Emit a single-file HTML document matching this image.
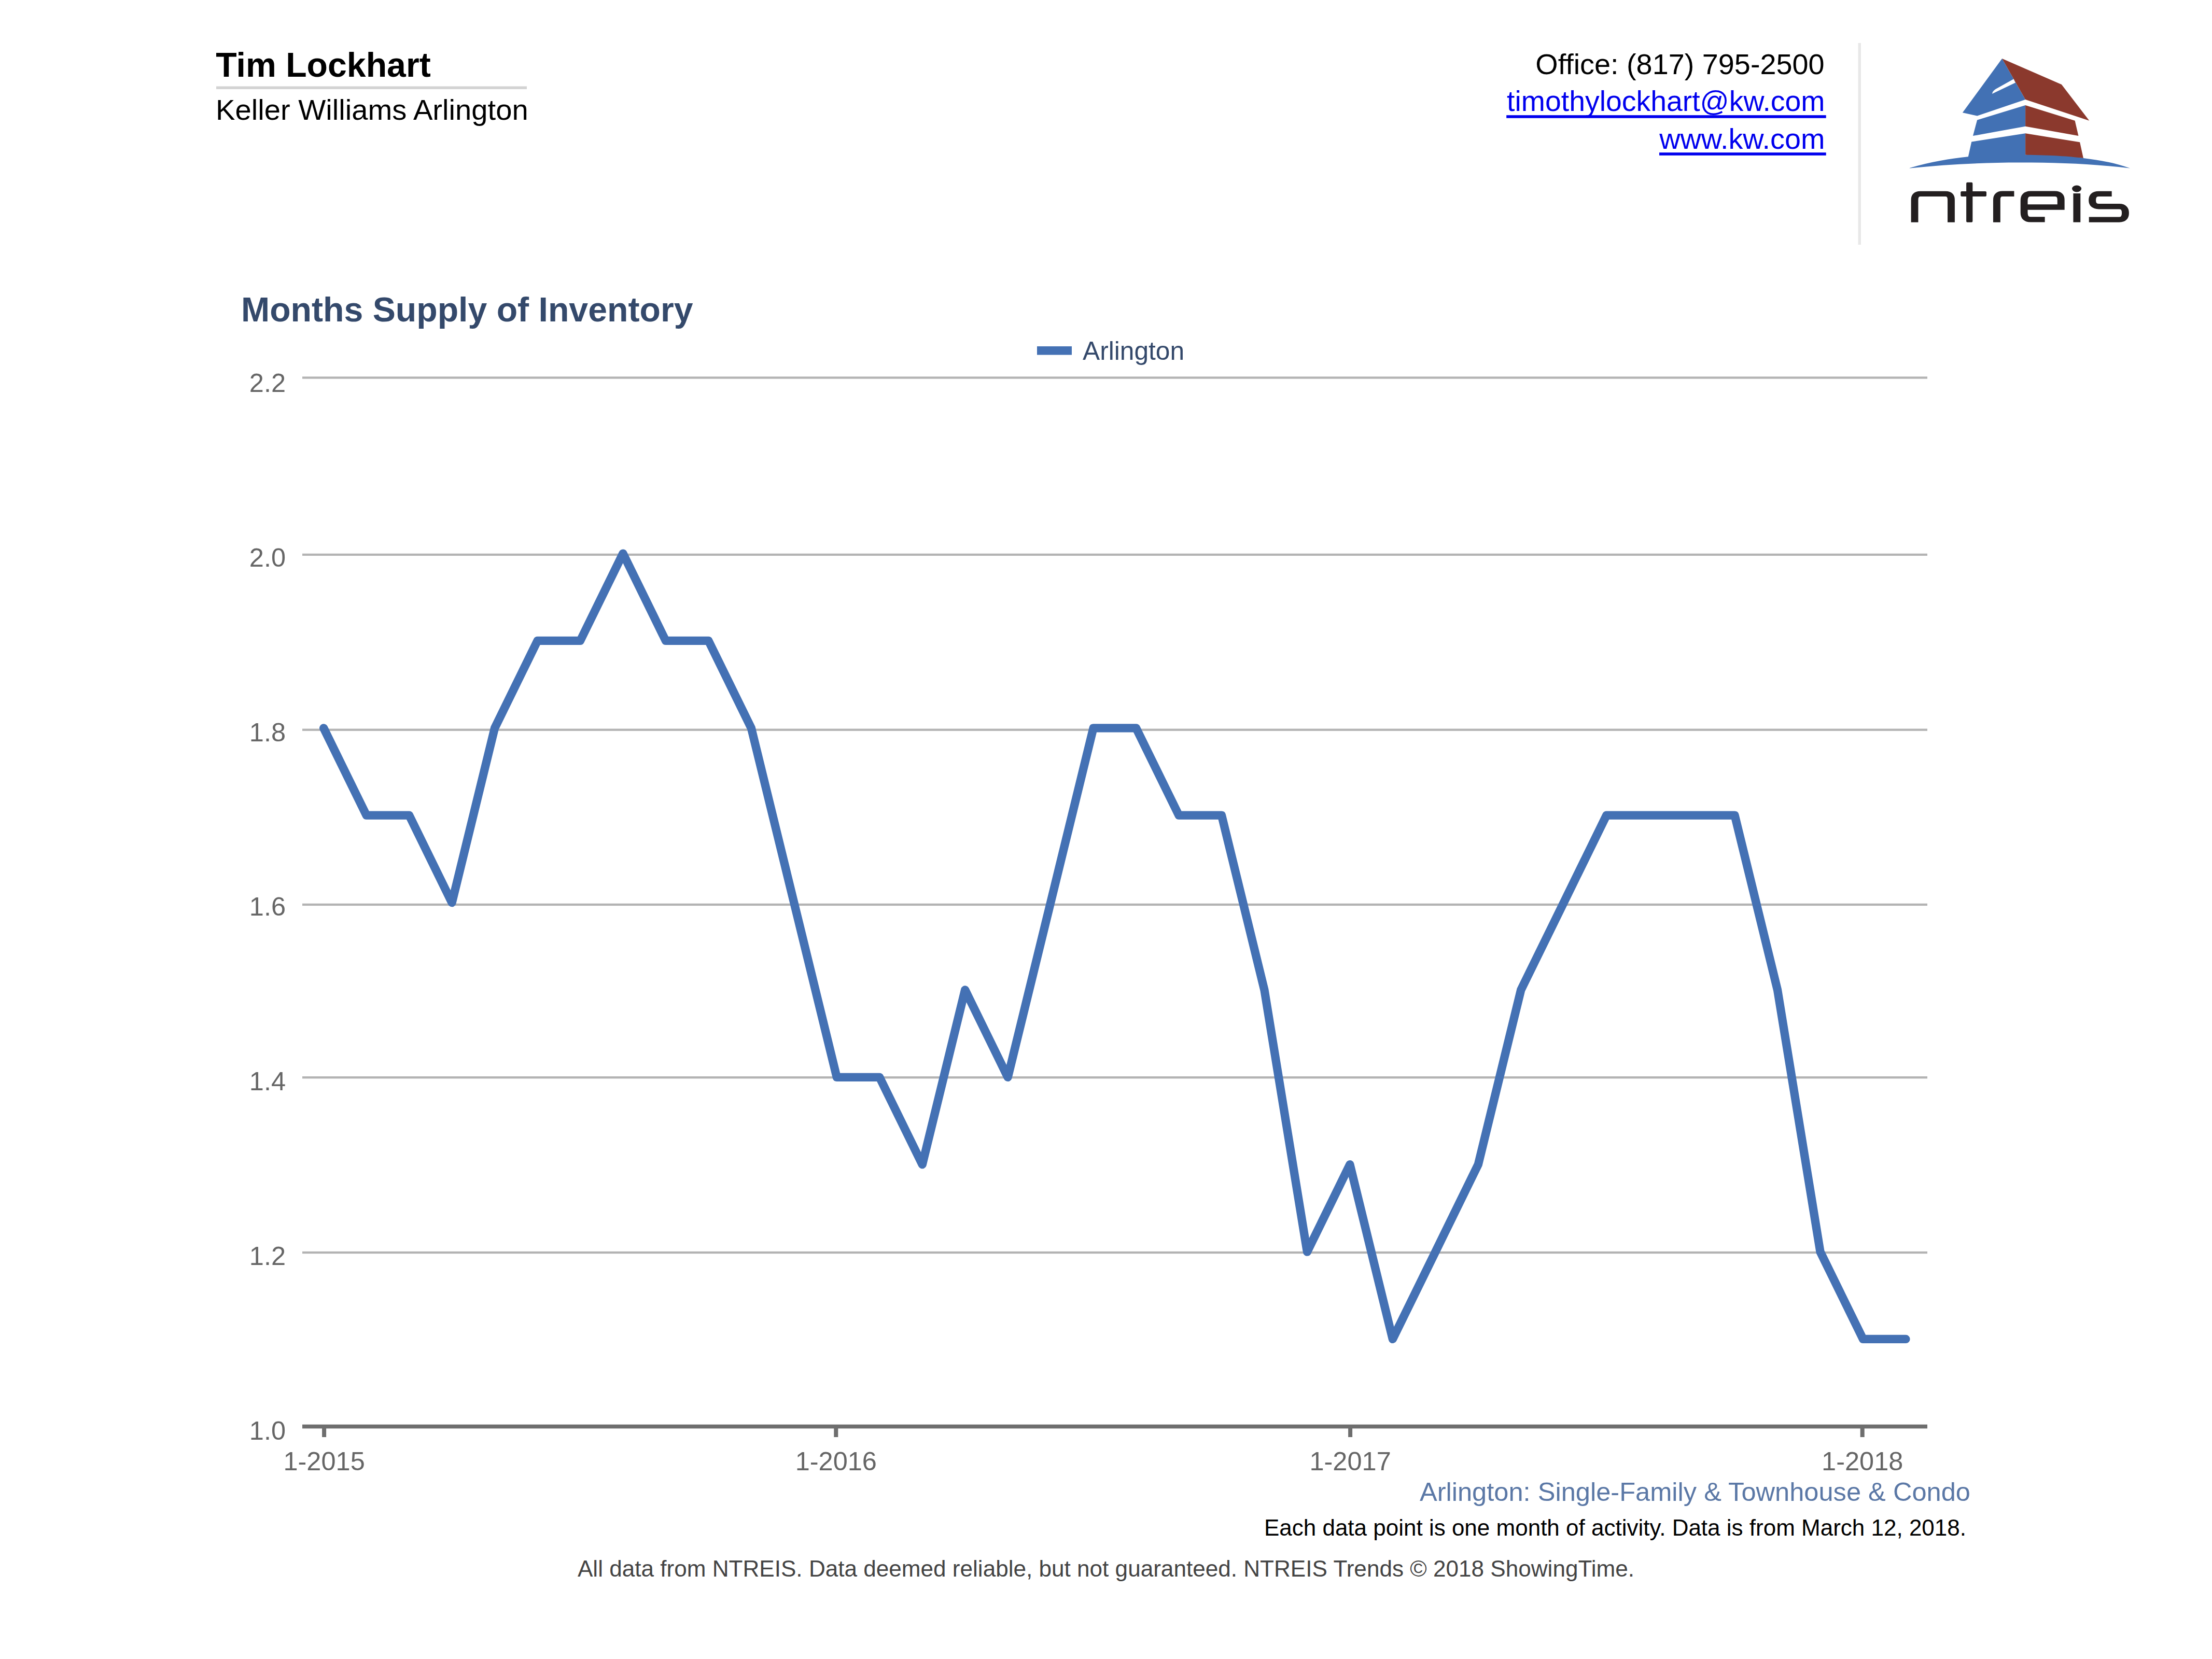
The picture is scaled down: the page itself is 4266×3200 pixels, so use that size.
<!DOCTYPE html>
<html><head><meta charset="utf-8"><title>Months Supply of Inventory</title>
<style>html,body{margin:0;padding:0;background:#fff;width:4266px;height:3200px;overflow:hidden}body{position:relative;font-family:"Liberation Sans", sans-serif}</style>
</head><body>
<svg width="4266" height="3200" viewBox="0 0 4266 3200" style="position:absolute;left:0;top:0">
<rect width="4266" height="3200" fill="#fff"/>
<text x="416.3" y="148" font-family='"Liberation Sans", sans-serif' font-weight="bold" font-size="66.2" fill="#000">Tim Lockhart</text>
<rect x="417" y="166.5" width="599" height="5.5" fill="#d3d3d3"/>
<text x="416" y="231" font-family='"Liberation Sans", sans-serif' font-size="56.2" fill="#000">Keller Williams Arlington</text>
<text x="3518.6" y="142.7" text-anchor="end" font-family='"Liberation Sans", sans-serif' font-size="55.8" fill="#000">Office: (817) 795-2500</text>
<text x="3519.5" y="213.8" text-anchor="end" font-family='"Liberation Sans", sans-serif' font-size="55.4" fill="#0000ee">timothylockhart@kw.com</text>
<rect x="2905.2" y="222.2" width="616.5" height="5.6" fill="#0000ee"/>
<text x="3519.5" y="286.6" text-anchor="end" font-family='"Liberation Sans", sans-serif' font-size="55.8" fill="#0000ee">www.kw.com</text>
<rect x="3200" y="294.2" width="321.7" height="5.6" fill="#0000ee"/>
<rect x="3583.5" y="83" width="5.5" height="389" fill="#e8e8e8"/>
<g transform="translate(3550,60) scale(0.271245)">
<polygon fill="#4271b4" points="1147,195 866,580 970,603 1313,487"/>
<polygon fill="#8b392d" points="1147,195 1570,380 1767,637 1313,487"/>
<path fill="#fff" d="M1076,446 Q1080,425 1102,412 L1229,341 L1242,367 Z"/>
<polygon fill="#4271b4" points="970,632 1313,527 1313,677 940,745"/>
<polygon fill="#8b392d" points="1313,527 1665,637 1690,745 1313,677"/>
<polygon fill="#4271b4" points="930,787 1313,727 1313,900 905,900"/>
<polygon fill="#8b392d" points="1313,727 1700,790 1725,903 1313,880"/>
<path fill="#4271b4" d="M490,973 C640,930 780,905 905,893 L1313,880 C1500,882 1620,890 1725,903 C1850,918 1960,940 2057,975 C1800,945 1550,935 1273,935 C1000,935 750,948 490,975 Z"/>
<g transform="translate(0,1250.0) scale(1,0.74510) translate(0,-1250.0)" fill="none" stroke="#231f20" stroke-width="51" stroke-linecap="butt" stroke-linejoin="miter">
<path d="M 525.50,1396.42 V 1182.89 Q 525.50,1125.72 566.00,1125.72 H 745 Q 785.20,1125.72 785.20,1182.89 V 1396.42"/>
<path d="M 1109.30,1396.42 V 1182.89 Q 1109.30,1124.65 1150.00,1124.65 H 1232.9"/>
<path d="M 1451.20,1370.79 H 1350 Q 1303.70,1370.79 1303.70,1303.68 V 1190.95 Q 1303.70,1124.65 1350.00,1124.65 H 1522 Q 1565.80,1124.65 1565.80,1182.89 V 1252.15 H 1303.7"/>
<path d="M 1678.80,1121.29 V 1396.42"/>
<path d="M 1926.90,1125.32 H 1835 Q 1788.40,1125.32 1788.40,1185.58 Q 1788.40,1246.11 1835.00,1246.11 H 1980 Q 2023.90,1246.11 2023.90,1307.71 Q 2023.90,1371.59 1980.00,1371.59 H 1764.9"/>
</g>
<rect x="892.6" y="1075.8" width="45.1" height="283.3" rx="8" fill="#231f20"/>
<rect x="852.6" y="1139.1" width="183.4" height="36.7" rx="8" fill="#231f20"/>
<ellipse cx="1677.9" cy="1120.8" rx="33.3" ry="23.6" fill="#231f20"/>
</g>
<text x="465" y="620" font-family='"Liberation Sans", sans-serif' font-weight="bold" font-size="66.2" fill="#34496b">Months Supply of Inventory</text>
<rect x="2000" y="668" width="67" height="16.5" fill="#4471b4"/>
<text x="2088" y="694" font-family='"Liberation Sans", sans-serif' font-size="49.7" fill="#34496b">Arlington</text>
<rect x="583" y="726.35" width="3134" height="4.3" fill="#b3b3b3"/>
<rect x="583" y="1067.75" width="3134" height="4.3" fill="#b3b3b3"/>
<rect x="583" y="1405.55" width="3134" height="4.3" fill="#b3b3b3"/>
<rect x="583" y="1742.75" width="3134" height="4.3" fill="#b3b3b3"/>
<rect x="583" y="2076.15" width="3134" height="4.3" fill="#b3b3b3"/>
<rect x="583" y="2413.85" width="3134" height="4.3" fill="#b3b3b3"/>
<text x="551" y="755.8" text-anchor="end" font-family='"Liberation Sans", sans-serif' font-size="50.5" fill="#666666">2.2</text>
<text x="551" y="1092.9" text-anchor="end" font-family='"Liberation Sans", sans-serif' font-size="50.5" fill="#666666">2.0</text>
<text x="551" y="1430.2" text-anchor="end" font-family='"Liberation Sans", sans-serif' font-size="50.5" fill="#666666">1.8</text>
<text x="551" y="1765.9" text-anchor="end" font-family='"Liberation Sans", sans-serif' font-size="50.5" fill="#666666">1.6</text>
<text x="551" y="2102.7" text-anchor="end" font-family='"Liberation Sans", sans-serif' font-size="50.5" fill="#666666">1.4</text>
<text x="551" y="2439.6" text-anchor="end" font-family='"Liberation Sans", sans-serif' font-size="50.5" fill="#666666">1.2</text>
<text x="551" y="2777.4" text-anchor="end" font-family='"Liberation Sans", sans-serif' font-size="50.5" fill="#666666">1.0</text>
<rect x="583" y="2747.7" width="3134" height="7.7" fill="#6e6e6e"/>
<rect x="621.1" y="2750" width="8" height="22" fill="#6e6e6e"/>
<rect x="1608.3" y="2750" width="8" height="22" fill="#6e6e6e"/>
<rect x="2600.1" y="2750" width="8" height="22" fill="#6e6e6e"/>
<rect x="3587.7" y="2750" width="8" height="22" fill="#6e6e6e"/>
<text x="625.1" y="2835.5" text-anchor="middle" font-family='"Liberation Sans", sans-serif' font-size="50.5" fill="#666666">1-2015</text>
<text x="1612.3" y="2835.5" text-anchor="middle" font-family='"Liberation Sans", sans-serif' font-size="50.5" fill="#666666">1-2016</text>
<text x="2604.1" y="2835.5" text-anchor="middle" font-family='"Liberation Sans", sans-serif' font-size="50.5" fill="#666666">1-2017</text>
<text x="3591.7" y="2835.5" text-anchor="middle" font-family='"Liberation Sans", sans-serif' font-size="50.5" fill="#666666">1-2018</text>
<polyline points="624.20,1404.34 706.67,1572.71 789.13,1572.71 871.60,1741.08 954.06,1404.34 1036.53,1235.97 1119.00,1235.97 1201.46,1067.60 1283.93,1235.97 1366.39,1235.97 1448.86,1404.34 1531.33,1741.08 1613.79,2077.82 1696.26,2077.82 1778.72,2246.19 1861.19,1909.45 1943.66,2077.82 2026.12,1741.08 2108.59,1404.34 2191.05,1404.34 2273.52,1572.71 2355.99,1572.71 2438.45,1909.45 2520.92,2414.56 2603.38,2246.19 2685.85,2582.93 2768.32,2414.56 2850.78,2246.19 2933.25,1909.45 3015.71,1741.08 3098.18,1572.71 3180.65,1572.71 3263.11,1572.71 3345.58,1572.71 3428.04,1909.45 3510.51,2414.56 3592.98,2582.93 3675.44,2582.93" fill="none" stroke="#4471b4" stroke-width="16.3" stroke-linejoin="round" stroke-linecap="round"/>
<text x="3800" y="2894.5" text-anchor="end" font-family='"Liberation Sans", sans-serif' font-size="50.6" fill="#5b78a6">Arlington: Single-Family &amp; Townhouse &amp; Condo</text>
<text x="3792" y="2962" text-anchor="end" font-family='"Liberation Sans", sans-serif' font-size="44" fill="#000">Each data point is one month of activity. Data is from March 12, 2018.</text>
<text x="2133" y="3041" text-anchor="middle" font-family='"Liberation Sans", sans-serif' font-size="44.1" fill="#444444">All data from NTREIS. Data deemed reliable, but not guaranteed. NTREIS Trends © 2018 ShowingTime.</text>
</svg>
</body></html>
